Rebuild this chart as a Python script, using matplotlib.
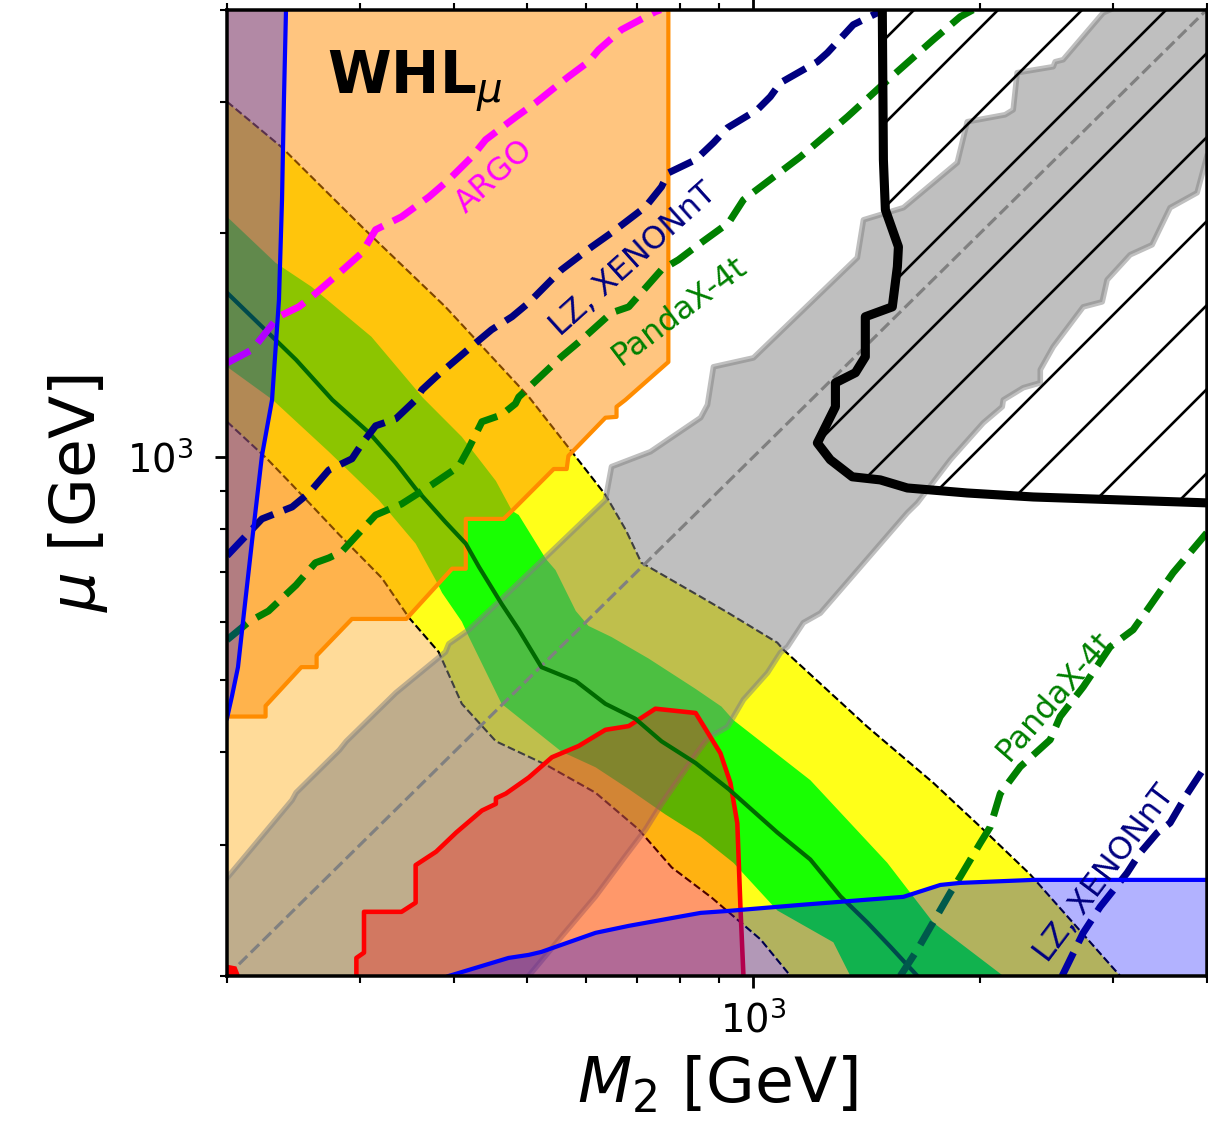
import matplotlib
matplotlib.use("Agg")
import matplotlib.pyplot as plt
from matplotlib.ticker import NullFormatter

# axis range (GeV)
M2_MIN, M2_MAX = 200, 4000
MU_MIN, MU_MAX = 200, 4000

# relic-density band: outer edges (dashed)
band2_upper_m2 = [200, 236, 302, 390, 503, 581, 636, 677, 710, 726, 851, 927, 1076, 1096, 1417, 1733, 2019, 2331, 3069]
band2_upper_mu = [3007, 2615, 2041, 1592, 1205, 1000, 889, 797, 720, 711, 648, 616, 562, 550, 433, 364, 315, 274, 200]
band2_lower_m2 = [200, 226, 244, 282, 321, 349, 382, 410, 455, 530, 617, 704, 779, 880, 1022, 1120]
band2_lower_mu = [1115, 994, 917, 785, 687, 607, 546, 465, 414, 385, 353, 315, 280, 255, 224, 200]

# relic-density band: inner edges
band1_upper_m2 = [200, 232, 259, 311, 364, 410, 455, 478, 488, 530, 546, 581, 604, 648, 726, 838, 907, 941, 1190, 1506, 1733, 2147]
band1_upper_mu = [2105, 1825, 1694, 1451, 1201, 1064, 928, 846, 835, 729, 704, 620, 592, 572, 535, 487, 461, 442, 367, 284, 236, 200]
band1_lower_m2 = [200, 230, 273, 318, 356, 379, 386, 410, 419, 463, 556, 617, 683, 764, 851, 941, 1076, 1277, 1345]
band1_lower_mu = [1322, 1193, 1016, 875, 764, 681, 656, 600, 572, 465, 401, 382, 357, 330, 308, 284, 245, 222, 200]

# central relic-density contour
central_m2 = [200, 247, 276, 309, 335, 356, 390, 415, 432, 463, 488, 523, 581, 636, 697, 755, 838, 927, 1076, 1190, 1305, 1417, 1520, 1651]
central_mu = [1663, 1351, 1193, 1077, 981, 906, 817, 764, 711, 634, 585, 521, 499, 465, 444, 414, 387, 357, 312, 287, 256, 236, 219, 200]

# orange exclusion boundary
orange_m2 = [771, 771, 676, 658, 658, 636, 568, 565, 543, 478, 466, 415, 415, 398, 346, 293, 263, 263, 251, 225, 225, 200]
orange_mu = [4000, 1342, 1193, 1168, 1132, 1129, 1003, 963, 963, 846, 825, 825, 707, 707, 605, 605, 540, 521, 521, 462, 447, 447]

# gray region around M2 = mu
gray_upper_m2 = [200, 244, 247, 282, 288, 328, 335, 390, 394, 419, 459, 530, 636, 648, 730, 851, 869, 885, 1000, 1374, 1400, 1582, 1865, 1923, 2159, 2213, 2240, 2501, 2516, 2578, 2914, 2977]
gray_upper_mu = [271, 345, 353, 403, 414, 471, 481, 546, 560, 585, 638, 733, 875, 970, 1016, 1129, 1175, 1322, 1359, 1854, 2085, 2165, 2489, 2826, 2888, 2933, 3290, 3352, 3404, 3425, 3962, 4000]
gray_lower_m2 = [4000, 3883, 3575, 3384, 3164, 2949, 2905, 2741, 2501, 2404, 2404, 2282, 2147, 2140, 2019, 1826, 1651, 1601, 1387, 1305, 1227, 1165, 1110, 1086, 1044, 970, 924, 877, 864, 838, 755, 719, 676, 617, 556, 503]
gray_lower_mu = [2536, 2268, 2165, 1930, 1871, 1731, 1617, 1592, 1407, 1310, 1258, 1239, 1193, 1168, 1111, 991, 867, 841, 711, 662, 616, 598, 555, 545, 512, 471, 433, 420, 414, 397, 341, 315, 290, 256, 226, 200]

# red region
red_m2 = [297, 297, 304, 304, 341, 356, 356, 379, 403, 436, 455, 455, 469, 503, 540, 586, 636, 683, 741, 838, 904, 932, 952, 961, 970]
red_mu = [200, 211.5, 215, 244, 244, 251, 282, 294, 312, 334, 341, 347, 352, 370, 394, 408, 429, 434, 458, 452, 399, 364, 321, 248, 200]
red_corner_m2 = [200, 200, 205, 207]
red_corner_mu = [200, 206, 205, 200]

# blue exclusions
blue_left_m2 = [239.5, 238, 236.6, 234.4, 229.5, 222.5, 215.9, 210.6, 206.8, 203.1, 200]
blue_left_mu = [4000, 3026, 2219, 1627, 1193, 1003, 771, 616, 521, 477, 445]
blue_low_m2 = [394, 473, 503, 523, 617, 683, 795, 851, 927, 1155, 1582, 1771, 1882, 2353, 4000]
blue_low_mu = [200, 211.5, 213.5, 215.5, 228.6, 233.6, 240.2, 243.2, 244.7, 249.3, 255.6, 265.2, 266.9, 269.4, 269.4]

# direct-detection / indirect projections
argo_m2 = [200, 216, 234, 249, 259, 282, 302, 315, 341, 371, 394, 423, 441, 484, 514, 540, 568, 604, 623, 668, 741, 753]
argo_mu = [1338, 1394, 1544, 1592, 1642, 1769, 1882, 2022, 2105, 2240, 2361, 2536, 2673, 2870, 2998, 3121, 3250, 3404, 3533, 3759, 3975, 4000]
lz_up_m2 = [200, 222.5, 244, 257, 273, 293, 302, 315, 335, 356, 363, 379, 428, 449, 478, 503, 556, 610, 648, 719, 755, 771, 838, 885, 924, 1012, 1053, 1086, 1216, 1254, 1357, 1461, 1474]
lz_up_mu = [736, 825, 856, 894, 960, 994, 1041, 1101, 1125, 1193, 1231, 1282, 1424, 1483, 1544, 1612, 1786, 1918, 2003, 2171, 2310, 2412, 2512, 2648, 2774, 2933, 3054, 3189, 3404, 3500, 3818, 3962, 4000]
pandax_up_m2 = [200, 214, 227, 247, 262, 273, 284, 296, 315, 341, 374, 406, 419, 436, 463, 483, 488, 556, 591, 648, 683, 755, 795, 845, 927, 970, 1155, 1333, 1474, 1601, 1733, 1882, 1959]
pandax_up_mu = [567, 600, 620, 672, 720, 731, 745, 780, 835, 864, 917, 970, 1028, 1115, 1139, 1179, 1204, 1364, 1437, 1563, 1592, 1786, 1842, 1930, 2066, 2219, 2536, 2870, 3150, 3393, 3644, 3914, 4000]
pandax_low_m2 = [1567, 1651, 1826, 1882, 2001, 2063, 2127, 2261, 2478, 2555, 2741, 2977, 3193, 3333, 3608, 4000]
pandax_low_mu = [200, 217, 259, 272, 302, 317.5, 352, 382.5, 416, 447, 490, 555, 585, 622, 698, 790]
lz_low_m2 = [2570, 2741, 2887, 3135, 3262, 3436, 3575, 3766, 4000]
lz_low_mu = [200, 228.6, 247.8, 275.3, 292.9, 311.6, 321.4, 351.7, 386]

# hatched region boundary
hatch_m2 = [1483, 1488, 1497, 1558, 1553, 1529, 1408, 1408, 1366, 1285, 1285, 1216, 1265, 1353, 1474, 1601, 1923, 2353, 4000]
hatch_mu = [4000, 2512, 2151, 1918, 1803, 1592, 1544, 1364, 1298, 1258, 1168, 1044, 991, 940, 931, 908, 894, 883, 867]

# curve labels: (text, M2, mu, angle, colour)
labels = [
    ("ARGO", 453, 2383, 42, "magenta"),
    ("LZ, XENONnT", 693, 1842, 42, "navy"),
    ("PandaX-4t", 798, 1575, 37, "green"),
    ("PandaX-4t", 2516, 477, 49, "green"),
    ("LZ, XENONnT", 2931, 275, 53, "navy"),
]

DPI = 252
plt.rcParams["hatch.linewidth"] = 0.75
fig = plt.figure(figsize=(1208.3 / DPI, 1124.3 / DPI), dpi=DPI)
ax = fig.add_axes([227 / 1208, 1 - 976 / 1124, 979.5 / 1208, 966 / 1124])
ax.set_xscale("log")
ax.set_yscale("log")
ax.set_xlim(M2_MIN, M2_MAX)
ax.set_ylim(MU_MIN, MU_MAX)

# region below the relic band
ax.fill(band2_lower_m2 + [M2_MIN], band2_lower_mu + [MU_MIN],
        color="orange", alpha=0.4, lw=0, zorder=1)
# 2-sigma and 1-sigma bands
ax.fill(band2_upper_m2 + band2_lower_m2[::-1], band2_upper_mu + band2_lower_mu[::-1],
        color="yellow", alpha=0.9, lw=0, zorder=1.1)
ax.fill(band1_upper_m2 + band1_lower_m2[::-1], band1_upper_mu + band1_lower_mu[::-1],
        color="lime", alpha=0.9, lw=0, zorder=1.2)
ax.plot(band2_upper_m2, band2_upper_mu, color="black", ls="--", lw=0.6, zorder=1.3)
ax.plot(band2_lower_m2, band2_lower_mu, color="black", ls="--", lw=0.6, zorder=1.3)

# orange exclusion
ax.fill([M2_MIN] + orange_m2, [MU_MAX] + orange_mu, color="darkorange", alpha=0.5, lw=0, zorder=2)
ax.plot(orange_m2, orange_mu, color="darkorange", lw=1.2, zorder=2.1)

# gray region and M2 = mu diagonal
gx = gray_upper_m2 + [M2_MAX] + gray_lower_m2 + [M2_MIN]
gy = gray_upper_mu + [MU_MAX] + gray_lower_mu + [MU_MIN]
ax.fill(gx, gy, color="gray", alpha=0.5, lw=0, zorder=2.5)
ax.plot(gray_upper_m2, gray_upper_mu, color="gray", alpha=0.5, lw=1.6, zorder=2.5)
ax.plot(gray_lower_m2, gray_lower_mu, color="gray", alpha=0.5, lw=1.6, zorder=2.5)
ax.plot([M2_MIN, M2_MAX], [MU_MIN, MU_MAX], color="gray", ls="--", lw=0.9, zorder=2.6)

# red region
ax.fill(red_m2, red_mu, color="red", alpha=0.3, lw=0, zorder=3)
ax.plot(red_m2, red_mu, color="red", lw=1.3, zorder=3.1)
ax.fill(red_corner_m2, red_corner_mu, color="red", lw=1, zorder=3.1)

# central contour
ax.plot(central_m2, central_mu, color="#006a00", lw=1.2, zorder=3.5)

# projected sensitivities
ax.plot(argo_m2, argo_mu, color="magenta", ls="--", lw=2, zorder=4)
ax.plot(lz_up_m2, lz_up_mu, color="navy", ls="--", lw=2, zorder=4)
ax.plot(pandax_up_m2, pandax_up_mu, color="green", ls="--", lw=2, zorder=4)
ax.plot(pandax_low_m2, pandax_low_mu, color="green", ls="--", lw=2, zorder=4)
ax.plot(lz_low_m2, lz_low_mu, color="navy", ls="--", lw=2, zorder=4)

# blue exclusions
ax.fill(blue_left_m2 + [M2_MIN], blue_left_mu + [MU_MAX], color="blue", alpha=0.3, lw=0, zorder=5)
ax.plot(blue_left_m2, blue_left_mu, color="blue", lw=1.2, zorder=5.1)
ax.fill(blue_low_m2 + [M2_MAX], blue_low_mu + [MU_MIN], color="blue", alpha=0.3, lw=0, zorder=5)
ax.plot(blue_low_m2, blue_low_mu, color="blue", lw=1.2, zorder=5.1)

# hatched region
ax.fill(hatch_m2 + [M2_MAX], hatch_mu + [MU_MAX], facecolor="none", edgecolor="black",
        hatch="/", lw=0, zorder=6)
ax.plot(hatch_m2, hatch_mu, color="black", lw=2.6, zorder=6.1)

for text, xm, ym, ang, col in labels:
    ax.text(xm, ym, text, color=col, fontsize=9, rotation=ang, rotation_mode="anchor",
            ha="center", va="center", zorder=7)

ax.text(0.102, 0.913, r"$\mathbf{WHL}_{\mu}$", transform=ax.transAxes,
        fontsize=16.5, ha="left", va="baseline", zorder=7)

ax.set_xlabel(r"$M_2$ [GeV]", fontsize=18)
ax.set_ylabel(r"$\mu$ [GeV]", fontsize=18, labelpad=5)
ax.tick_params(which="both", direction="out", top=True, right=True, labelsize=11)
ax.tick_params(axis="y", which="major", pad=6)
ax.xaxis.set_minor_formatter(NullFormatter())
ax.yaxis.set_minor_formatter(NullFormatter())
for s in ax.spines.values():
    s.set_linewidth(1.0)
    s.set_zorder(10)

fig.savefig("out.png", dpi=DPI)
